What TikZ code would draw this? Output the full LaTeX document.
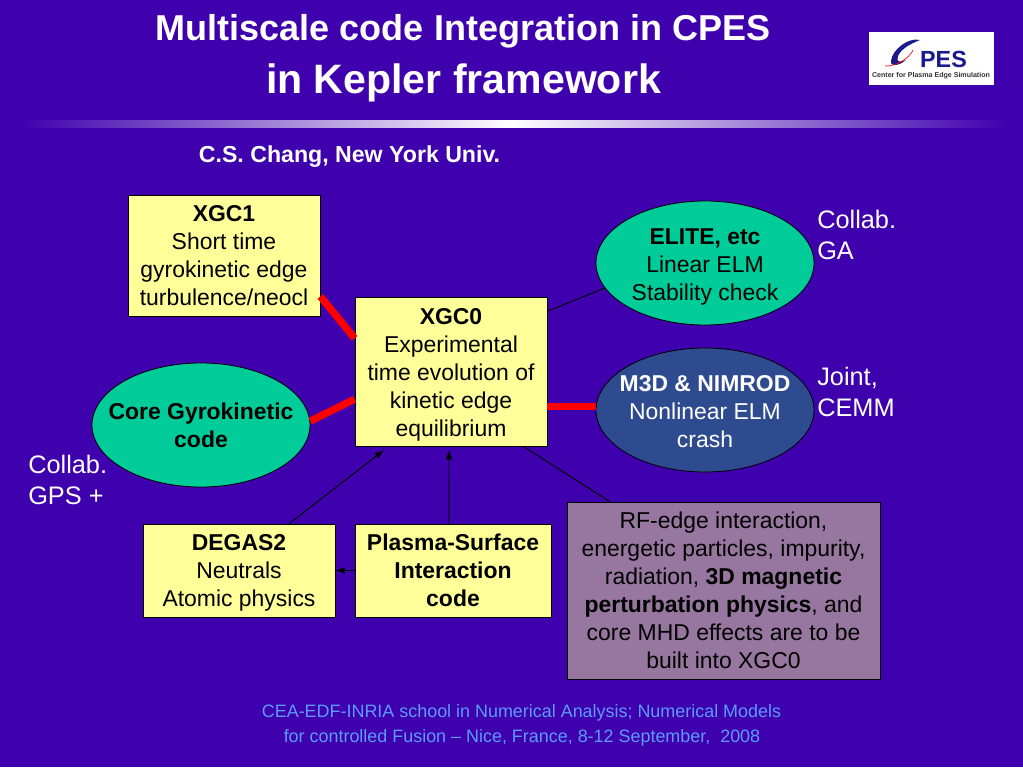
\documentclass[tikz,border=0pt]{standalone}
\usepackage{fontspec}
\setmainfont{Liberation Sans}
\usepackage{tikz}
\usetikzlibrary{shapes.geometric, arrows.meta}

\definecolor{slidebg}{HTML}{3F00AE}
\definecolor{boxyellow}{HTML}{FFFF99}
\definecolor{ovalteal}{HTML}{00CC99}
\definecolor{ovalnavy}{HTML}{2F4B8F}
\definecolor{boxpurple}{HTML}{97779F}
\definecolor{footblue}{HTML}{5C9BFF}
\definecolor{logoblue}{HTML}{1A1A8C}

\tikzset{
	body/.style = {font=\fontsize{17.2}{21}\selectfont, align=center, inner sep=0pt, draw=black, line width=0.6pt},
	yellowbox/.style = {body, rectangle, fill=boxyellow},
	oval/.style = {body, ellipse, inner xsep=-30pt, inner ysep=-8pt, minimum width=163.5pt, minimum height=93pt},
	note/.style = {font=\fontsize{19}{23.2}\selectfont, align=left, text=white, inner sep=0pt},
	redlink/.style = {red, line width=5.5pt},
	thinlink/.style = {black, line width=0.7pt},
	tiplink/.style = {thinlink, -{Latex[length=7pt, width=5pt]}}
}

\begin{document}
\begin{tikzpicture}[x=0.75pt, y=-0.75pt]
	\fill [slidebg] (0,0) rectangle (1023,767);
	\useasboundingbox (0,0) rectangle (1023,767);

	% heading
	\node (title) [text=white, font=\fontsize{27}{33}\bfseries\selectfont, inner sep=0pt] at (463,31) {Multiscale code Integration in CPES};
	\node (subtitle) [text=white, font=\fontsize{30.8}{36}\bfseries\selectfont, inner sep=0pt] at (463.5,83) {in Kepler framework};
	\node (speaker) [text=white, font=\fontsize{17.35}{20}\bfseries\selectfont, inner sep=0pt] at (349.5,157) {C.S. Chang, New York Univ.};

	% rule under the heading
	\fill [left color=slidebg, right color=white] (20,120) rectangle (512,127);
	\fill [left color=white, right color=slidebg] (512,120) rectangle (1008,127);

	% logo
	\node (logo) [fill=white, minimum width=93.75pt, minimum height=39.75pt, inner sep=0pt] at (931.5,58.5) {};
	\node (logopes) [text=logoblue, font=\fontsize{17.5}{20}\bfseries\selectfont, inner sep=0pt] at (943.5,59) {PES};
	\node (logotext) [text=black!80, font=\fontsize{5.3}{6}\bfseries\selectfont, inner sep=0pt] at (931,76) {Center for Plasma Edge Simulation};
	\fill [logoblue] (920,40) .. controls (908,37) and (892,50) .. (891,61) .. controls (890,67) and (899,66) .. (906,60)
		.. controls (899,63) and (896,62) .. (898,56) .. controls (901,49) and (910,44) .. (920,40);
	\draw [red, line width=0.5pt] (885,66) .. controls (895,67) and (910,58) .. (913,50);

	% boxes
	\node (xgcone) [yellowbox, minimum width=144pt, minimum height=90.75pt] at (224,255.5) {\textbf{XGC1}\\Short time\\gyrokinetic edge\\turbulence/neocl};
	\node (xgczero) [yellowbox, minimum width=144pt, minimum height=111.75pt] at (451,371.5) {\\[-4pt]\textbf{XGC0}\\Experimental\\time evolution of\\kinetic edge\\equilibrium};
	\node (degas) [yellowbox, minimum width=144pt, minimum height=69.75pt] at (239,570.5) {\\[-6pt]\textbf{DEGAS2}\\Neutrals\\Atomic physics};
	\node (surface) [yellowbox, minimum width=147pt, minimum height=69.75pt] at (453,570.5) {\textbf{Plasma-Surface}\\\textbf{Interaction}\\\textbf{code}};
	\node (rfedge) [body, rectangle, fill=boxpurple, minimum width=234.75pt, minimum height=132.75pt] at (723.5,590.5) {RF-edge interaction,\\energetic particles, impurity,\\radiation, \textbf{3D magnetic}\\\textbf{perturbation physics}, and\\core MHD effects are to be\\built into XGC0};

	% ovals
	\node (elite) [oval, fill=ovalteal] at (705,263) {\\[-3pt]\textbf{ELITE, etc}\\Linear ELM\\Stability check};
	\node (nimrod) [oval, fill=ovalnavy, text=white] at (705,410) {\\[-6pt]\textbf{M3D \& NIMROD}\\Nonlinear ELM\\crash};
	\node (core) [oval, fill=ovalteal] at (201,425) {\textbf{Core Gyrokinetic}\\\textbf{code}};

	% side notes
	\node (collabga) [note, anchor=north west] at (817,210) {Collab.\\GA};
	\node (jointcemm) [note, anchor=north west] at (817,367) {Joint,\\CEMM};
	\node (collabgps) [note, anchor=north west] at (28,455) {Collab.\\GPS +};

	% footer
	\node (footone) [text=footblue, font=\fontsize{13.45}{15}\selectfont, inner sep=0pt] at (521.5,713) {CEA-EDF-INRIA school in Numerical Analysis; Numerical Models};
	\node (foottwo) [text=footblue, font=\fontsize{13.45}{15}\selectfont, inner sep=0pt] at (522,738) {for controlled Fusion -- Nice, France, 8-12 September,~ 2008};

	% connectors
	\coordinate (degastip) at (384,450);
	\coordinate (surfacetip) at (449,450);

	\draw [redlink] (xgcone.-23.4) -- (xgczero.161.8);
	\draw [redlink] (core.2) -- (xgczero.196.5);
	\draw [redlink] (xgczero.-20) -- (xgczero.-20 -| nimrod.west);

	\draw [thinlink] (xgczero.32.2) -- (elite.194);
	\draw [thinlink] (xgczero.-46.6) -- (rfedge.142);
	\draw [tiplink] (degas.43.5) -- (degastip);
	\draw [tiplink] (surface.95) -- (surfacetip);
	\draw [tiplink] (surface.west) -- (degas.east);
\end{tikzpicture}
\end{document}
